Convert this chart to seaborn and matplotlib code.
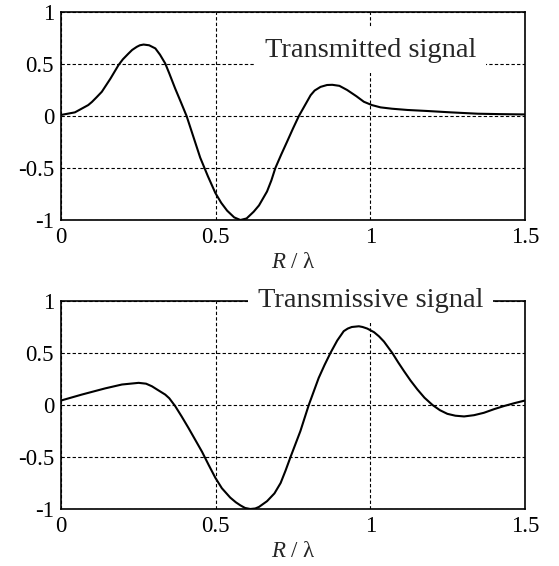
import matplotlib
matplotlib.use('Agg')
import matplotlib.pyplot as plt
import seaborn as sns

# values (R / lambda -> signal)
top_r = [0, 0.045, 0.088, 0.10, 0.115, 0.132, 0.16, 0.186, 0.20, 0.218, 0.23, 0.245,
         0.255, 0.267, 0.285, 0.305, 0.32, 0.337, 0.35, 0.369, 0.388, 0.406, 0.428,
         0.45, 0.475, 0.499, 0.518, 0.537, 0.56, 0.58, 0.60, 0.623, 0.64, 0.666,
         0.68, 0.693, 0.712, 0.731, 0.75, 0.769, 0.788, 0.807, 0.82, 0.839, 0.86,
         0.877, 0.90, 0.925, 0.955, 0.979, 1.005, 1.033, 1.07, 1.12, 1.185, 1.26,
         1.347, 1.42, 1.5]
top_val = [0.01, 0.035, 0.105, 0.135, 0.18, 0.233, 0.36, 0.49, 0.545, 0.60, 0.635, 0.665,
           0.68, 0.687, 0.68, 0.65, 0.59, 0.505, 0.41, 0.265, 0.13, 0.0, -0.2,
           -0.40, -0.58, -0.74, -0.835, -0.91, -0.975, -1.0, -0.985, -0.92, -0.86, -0.726,
           -0.62, -0.50, -0.37, -0.246, -0.12, 0.0, 0.10, 0.20, 0.245, 0.28, 0.298,
           0.30, 0.29, 0.25, 0.19, 0.137, 0.105, 0.083, 0.07, 0.058, 0.048, 0.035,
           0.022, 0.018, 0.015]

bot_r = [0, 0.067, 0.143, 0.197, 0.251, 0.275, 0.294, 0.31, 0.337, 0.35, 0.369, 0.39,
         0.412, 0.434, 0.456, 0.478, 0.499, 0.52, 0.547, 0.565, 0.58, 0.595, 0.612,
         0.628, 0.64, 0.666, 0.69, 0.71, 0.726, 0.742, 0.758, 0.774, 0.788, 0.801,
         0.817, 0.833, 0.852, 0.871, 0.893, 0.914, 0.927, 0.94, 0.963, 0.975, 0.99,
         1.012, 1.028, 1.044, 1.071, 1.09, 1.109, 1.13, 1.152, 1.175, 1.201, 1.225,
         1.249, 1.275, 1.303, 1.335, 1.367, 1.40, 1.432, 1.466, 1.5]
bot_val = [0.043, 0.10, 0.16, 0.197, 0.213, 0.205, 0.18, 0.15, 0.10, 0.065, -0.01, -0.11,
           -0.22, -0.335, -0.45, -0.58, -0.70, -0.80, -0.89, -0.935, -0.965, -0.99, -1.0,
           -0.995, -0.98, -0.925, -0.85, -0.75, -0.63, -0.5, -0.375, -0.25, -0.12, 0.0,
           0.13, 0.26, 0.385, 0.5, 0.62, 0.71, 0.735, 0.75, 0.757, 0.75, 0.735,
           0.70, 0.66, 0.61, 0.5, 0.41, 0.325, 0.235, 0.15, 0.07, 0.0, -0.05,
           -0.085, -0.103, -0.11, -0.098, -0.075, -0.04, -0.01, 0.018, 0.043]

titles = ['Transmitted signal', 'Transmissive signal']
xticks = [0, 0.5, 1, 1.5]
xticklabels = ['0', '0.5', '1', '1.5']
yticks = [-1, -0.5, 0, 0.5, 1]
yticklabels = ['-1', '-0.5', '0', '0.5', '1']

sns.set_style('white')
plt.rcParams['font.family'] = ['Liberation Serif', 'DejaVu Serif']
plt.rcParams['mathtext.fontset'] = 'custom'
plt.rcParams['mathtext.rm'] = 'Liberation Serif'
plt.rcParams['mathtext.it'] = 'Liberation Serif:italic'

fig = plt.figure(figsize=(5.59, 5.66), dpi=100)
ax_top = fig.add_axes([0.1091, 0.6113, 0.8301, 0.3675])
ax_bot = fig.add_axes([0.1091, 0.1007, 0.8301, 0.3675])

panels = [(ax_top, top_r, top_val, 0.63), (ax_bot, bot_r, bot_val, 1.0)]
for (ax, xs, ys, ty), title in zip(panels, titles):
    sns.lineplot(x=xs, y=ys, ax=ax, color='black', linewidth=1.5,
                 estimator=None, sort=False)
    ax.set_xlim(0, 1.5)
    ax.set_ylim(-1, 1)
    ax.set_xticks(xticks)
    ax.set_xticklabels(xticklabels)
    ax.set_yticks(yticks)
    ax.set_yticklabels(yticklabels)
    ax.tick_params(length=0, labelsize=16.5, pad=5, colors='black')
    ax.grid(True, color='black', linestyle=(0, (3, 2)), linewidth=0.8)
    for sp in ax.spines.values():
        sp.set_visible(True)
        sp.set_color('black')
        sp.set_linewidth(1.2)
    ax.set_xlabel('$R$ / λ', fontsize=16.5, labelpad=3)
    ax.set_ylabel('')
    ax.text(1.0, ty, title, ha='center', va='center', fontsize=20.5,
            zorder=5, clip_on=False,
            bbox=dict(facecolor='white', edgecolor='none',
                      boxstyle='square,pad=0.35'))

fig.savefig('out.png', dpi=100)
